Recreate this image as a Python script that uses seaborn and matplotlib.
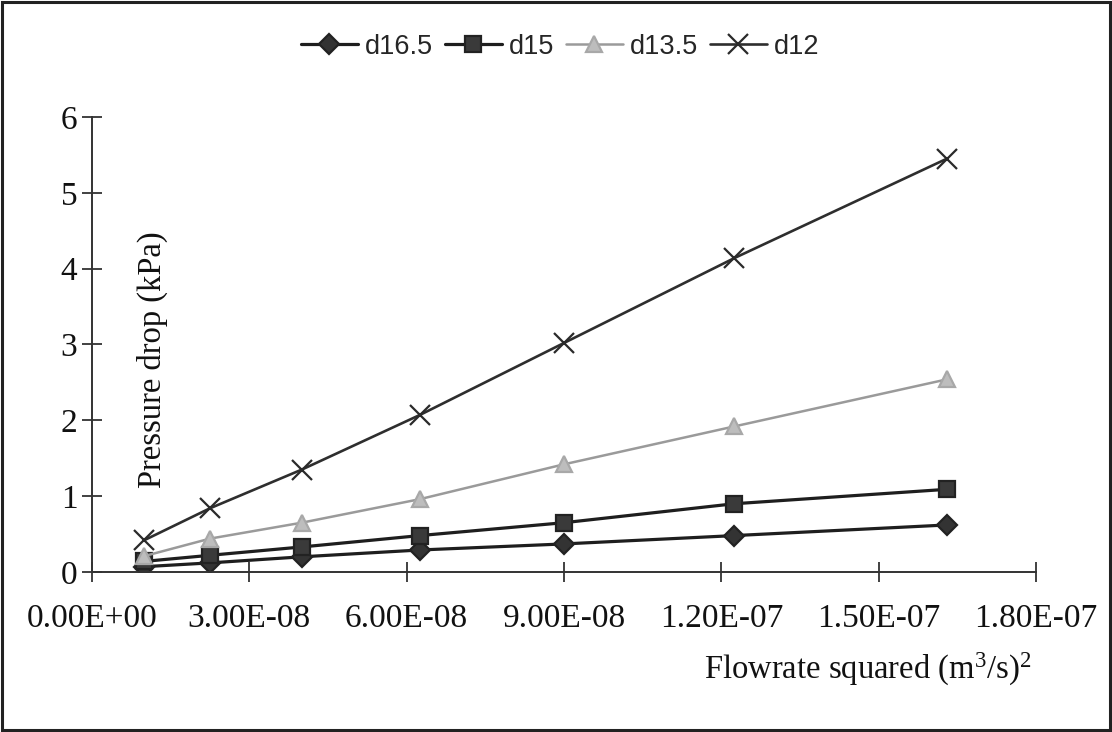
import matplotlib
matplotlib.use("Agg")
import matplotlib.pyplot as plt
from matplotlib.patches import Rectangle
import seaborn as sns
import pandas as pd

# Flowrate squared, (m^3/s)^2
flow_sq = [1.0e-8, 2.25e-8, 4.0e-8, 6.25e-8, 9.0e-8, 1.225e-7, 1.63e-7]

# Pressure drop (kPa) for each orifice diameter
d16_5 = [0.07, 0.12, 0.20, 0.29, 0.37, 0.48, 0.62]
d15 = [0.14, 0.22, 0.33, 0.48, 0.65, 0.90, 1.09]
d13_5 = [0.21, 0.44, 0.65, 0.96, 1.42, 1.92, 2.54]
d12 = [0.42, 0.84, 1.35, 2.07, 3.02, 4.14, 5.45]

series_names = ["d16.5", "d15", "d13.5", "d12"]

x_ticks = [0.0, 3.0e-8, 6.0e-8, 9.0e-8, 1.2e-7, 1.5e-7, 1.8e-7]
x_tick_labels = ["0.00E+00", "3.00E-08", "6.00E-08", "9.00E-08",
                 "1.20E-07", "1.50E-07", "1.80E-07"]
y_ticks = [0, 1, 2, 3, 4, 5, 6]
y_tick_labels = ["0", "1", "2", "3", "4", "5", "6"]

sns.set_style("white")
plt.rcParams["font.family"] = ["Liberation Serif", "DejaVu Serif"]
plt.rcParams["mathtext.fontset"] = "custom"
plt.rcParams["mathtext.rm"] = "Liberation Serif"
plt.rcParams["mathtext.it"] = "Liberation Serif:italic"

df = pd.DataFrame({
    "flow": flow_sq * 4,
    "dp": d16_5 + d15 + d13_5 + d12,
    "series": sum([[n] * len(flow_sq) for n in series_names], []),
})

styles = {
    "d16.5": dict(color="#1e1e1e", marker="D", ms=10, mfc="#333333", mec="#222222", lw=2.3),
    "d15": dict(color="#1e1e1e", marker="s", ms=12, mfc="#3a3a3a", mec="#222222", lw=2.3),
    "d13.5": dict(color="#9a9a9a", marker="^", ms=11, mfc="#bdbdbd", mec="#a8a8a8", lw=1.8),
    "d12": dict(color="#2e2e2e", marker="x", ms=14, mfc="none", mec="#2a2a2a", lw=1.9),
}

fig = plt.figure(figsize=(11.12, 7.32), dpi=100)
ax = fig.add_axes([0.0827, 0.2186, 0.849, 0.6216])

for name in series_names:
    st = styles[name]
    sub = df[df["series"] == name]
    sns.lineplot(data=sub, x="flow", y="dp", ax=ax, label=name,
                 color=st["color"], linewidth=st["lw"], marker=st["marker"],
                 markersize=st["ms"], markerfacecolor=st["mfc"],
                 markeredgecolor=st["mec"], markeredgewidth=1.6,
                 legend=False)

ax.set_xlim(0, 1.8e-7)
ax.set_ylim(0, 6)
ax.set_xticks(x_ticks)
ax.set_xticklabels(x_tick_labels)
ax.set_yticks(y_ticks)
ax.set_yticklabels(y_tick_labels)

for side in ("top", "right"):
    ax.spines[side].set_visible(False)
for side in ("left", "bottom"):
    ax.spines[side].set_color("#333333")
    ax.spines[side].set_linewidth(1.4)

ax.tick_params(axis="both", direction="inout", length=15, width=1.3,
               color="#333333", labelsize=24, labelcolor="#111111",
               bottom=True, left=True)
ax.tick_params(axis="x", pad=15)
ax.tick_params(axis="y", pad=3)

ax.set_ylabel("Pressure drop (kPa)", fontsize=23.5, color="#111111")
ax.yaxis.set_label_coords(0.0636, 0.466)
ax.yaxis.label.set_verticalalignment("center")

ax.set_xlabel(r"Flowrate squared (m$^{3}$/s)$^{2}$", fontsize=23.5, color="#111111")
ax.xaxis.set_label_coords(0.822, -0.215)
ax.xaxis.label.set_verticalalignment("center")

handles, labels = ax.get_legend_handles_labels()
fig.legend(handles, labels, loc="center", bbox_to_anchor=(0.5036, 0.936),
           ncol=4, frameon=False, handlelength=2.1, handletextpad=0.25,
           columnspacing=0.45, prop={"family": "Liberation Sans", "size": 19.5})

fig.add_artist(Rectangle((0.002, 0.003), 0.996, 0.994, transform=fig.transFigure,
                         fill=False, lw=2.2, ec="#222222"))

fig.savefig("out.png", dpi=100)
